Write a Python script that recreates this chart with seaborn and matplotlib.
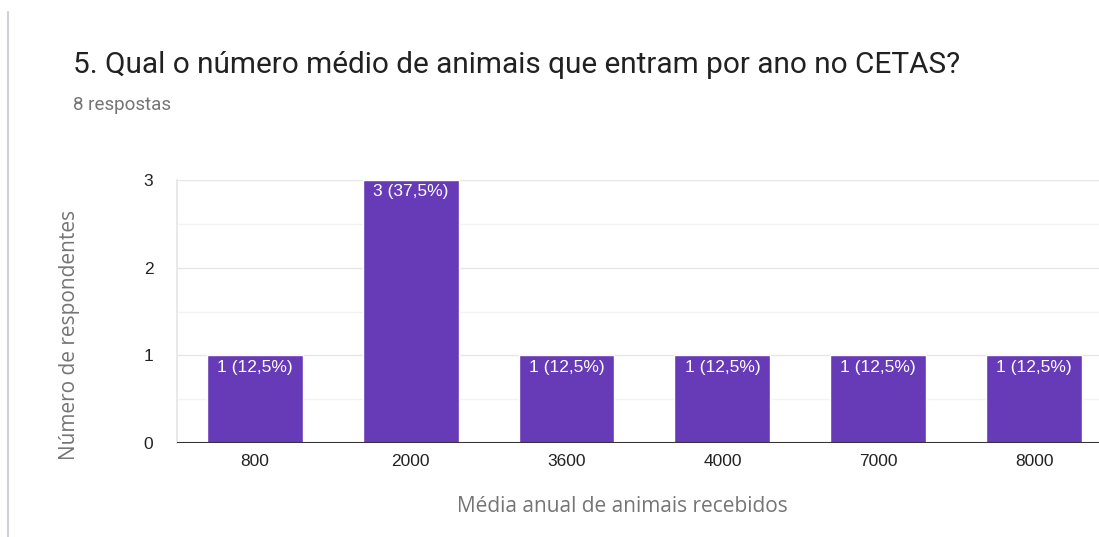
import matplotlib
matplotlib.use("Agg")
import matplotlib.pyplot as plt
import seaborn as sns
import pandas as pd

categories = ["800", "2000", "3600", "4000", "7000", "8000"]
counts = [1, 3, 1, 1, 1, 1]
bar_labels = ["1 (12,5%)", "3 (37,5%)", "1 (12,5%)", "1 (12,5%)", "1 (12,5%)", "1 (12,5%)"]

sns.set_theme(style="white")
plt.rcParams["font.family"] = ["Roboto", "DejaVu Sans"]

W, H = 1099, 537
fig = plt.figure(figsize=(W / 100, H / 100), dpi=100)
ax = fig.add_axes([177 / W, 1 - 443 / H, (W - 177) / W, (443 - 180) / H])

df = pd.DataFrame({"cat": categories, "n": counts})
sns.barplot(data=df, x="cat", y="n", color="#673ab7", saturation=1, width=0.615, ax=ax, zorder=3)

ax.set_ylim(0, 3)
ax.set_xlim(-0.5, 5.417)
for y in [0.5, 1.5, 2.5]:
    ax.axhline(y, color="#f3f3f3", lw=1, zorder=1)
for y in [1, 2, 3]:
    ax.axhline(y, color="#e6e6e6", lw=1, zorder=1)
ax.axhline(0, color="#333333", lw=1.5, zorder=4)
ax.set_yticks([0, 1, 2, 3])
for s in ax.spines.values():
    s.set_visible(False)
ax.spines["left"].set_visible(True)
ax.spines["left"].set_color("#e6e6e6")
ax.tick_params(axis="both", length=0, labelsize=12.5, colors="#222222")
ax.tick_params(axis="y", pad=17)
ax.tick_params(axis="x", pad=8)
for t in ax.get_xticklabels() + ax.get_yticklabels():
    t.set_family(["Liberation Sans", "DejaVu Sans"])

for i, (v, lab) in enumerate(zip(counts, bar_labels)):
    ax.text(i, v - 0.05, lab, ha="center", va="top", color="white", fontsize=12.5, zorder=5,
            family=["Liberation Sans", "DejaVu Sans"])

ax.set_xlabel("Média anual de animais recebidos", fontsize=15, color="#757575",
              family=["Open Sans", "DejaVu Sans"])
ax.set_ylabel("Número de respondentes", fontsize=15, color="#757575",
              family=["Open Sans", "DejaVu Sans"])
ax.xaxis.set_label_coords((622 - 177) / (W - 177), -(506 - 443) / (443 - 180))
ax.yaxis.set_label_coords(-(177 - 70) / (W - 177), (443 - 335) / (443 - 180))
ax.xaxis.label.set_va("center")
ax.yaxis.label.set_va("center")

fig.text(73 / W, 1 - 65 / H, "5. Qual o número médio de animais que entram por ano no CETAS?",
         fontsize=21.4, color="#212121", va="center", ha="left")
fig.text(73 / W, 1 - 105 / H, "8 respostas", fontsize=13.5, color="#757575", va="center", ha="left")

fig.add_artist(plt.Line2D([8 / W, 8 / W], [0, 1 - 12 / H], color="#d0d0d8", lw=1.5))

fig.savefig("out.png", dpi=100)
